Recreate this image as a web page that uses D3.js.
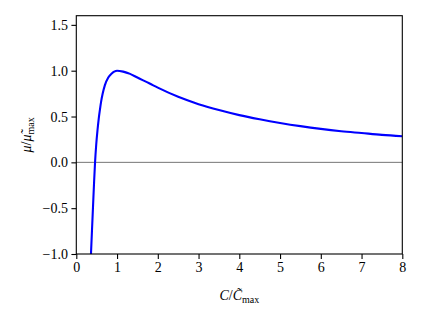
<!DOCTYPE html>
<html>
<head>
<meta charset="utf-8">
<script src="https://cdn.jsdelivr.net/npm/d3@7"></script>
<style>
  html, body { margin: 0; padding: 0; background: #fff; }
  svg { display: block; }
  svg text { font-family: "Liberation Serif", "DejaVu Serif", serif !important; fill: #000; }
</style>
</head>
<body>
<svg id="chart" width="422" height="317"></svg>
<script>
// Data
const cValues = [0.36, 0.385, 0.41, 0.435, 0.46, 0.49, 0.52, 0.55, 0.58, 0.61, 0.645, 0.70, 0.785, 0.87, 0.93, 1.0, 1.15, 1.32, 1.5, 1.8, 2.0, 2.5, 3.0, 3.5, 4.0, 4.5, 5.0, 5.5, 6.0, 6.5, 7.0, 7.5, 8.0];
const muValues = [-1.0, -0.74, -0.485, -0.23, 0.0, 0.2, 0.35, 0.475, 0.575, 0.665, 0.745, 0.84, 0.925, 0.97, 0.99, 1.0, 0.99, 0.965, 0.925, 0.86, 0.815, 0.715, 0.635, 0.57, 0.515, 0.47, 0.43, 0.395, 0.365, 0.34, 0.32, 0.30, 0.285];
const xTicks = [0, 1, 2, 3, 4, 5, 6, 7, 8];
const yTicks = [-1.0, -0.5, 0.0, 0.5, 1.0, 1.5];

const svg = d3.select("#chart");
const mLeft = 76.3, mRight = 402.3, mTop = 15.7, mBottom = 254;
const serif = '"Liberation Serif", "DejaVu Serif", serif';

const x = d3.scaleLinear().domain([0, 8]).range([mLeft, mRight]);
const y = d3.scaleLinear().domain([-1, 1.6]).range([mBottom, mTop]);

svg.append("defs").append("clipPath").attr("id", "clip")
  .append("rect").attr("x", mLeft).attr("y", mTop)
  .attr("width", mRight - mLeft).attr("height", mBottom - mTop);

// zero reference line
svg.append("line")
  .attr("x1", mLeft).attr("x2", mRight)
  .attr("y1", y(0)).attr("y2", y(0))
  .attr("stroke", "#666").attr("stroke-width", 0.9);

// curve
const pts = cValues.map((c, i) => [c, muValues[i]]);
const line = d3.line().x(d => x(d[0])).y(d => y(d[1])).curve(d3.curveMonotoneX);
svg.append("path")
  .datum(pts)
  .attr("clip-path", "url(#clip)")
  .attr("fill", "none")
  .attr("stroke", "#0000ff")
  .attr("stroke-width", 2.1)
  .attr("stroke-linejoin", "round")
  .attr("d", line);

const fmtMinus = s => s.replace("-", "\u2212");

// axes
const xAxis = d3.axisBottom(x).tickValues(xTicks).tickFormat(d3.format("d")).tickSize(4.9).tickPadding(3.5);
const yAxis = d3.axisLeft(y).tickValues(yTicks).tickFormat(d => fmtMinus(d3.format(".1f")(d))).tickSize(4.9).tickPadding(3.5);

const gx = svg.append("g").attr("transform", `translate(0,${mBottom})`).call(xAxis);
const gy = svg.append("g").attr("transform", `translate(${mLeft},0)`).call(yAxis);
[gx, gy].forEach(g => {
  g.attr("font-family", null).attr("font-size", null);
  g.select(".domain").remove();
  g.selectAll(".tick line").attr("stroke", "#000").attr("stroke-width", 1.1);
  g.selectAll(".tick text").style("font-size", "14px").style("font-family", serif).attr("fill", "#000");
});

// frame
svg.append("rect")
  .attr("x", mLeft).attr("y", mTop)
  .attr("width", mRight - mLeft).attr("height", mBottom - mTop)
  .attr("fill", "none").attr("stroke", "#000").attr("stroke-width", 1.1);

// x label
const xl = svg.append("text")
  .attr("x", (mLeft + mRight) / 2).attr("y", 300)
  .attr("text-anchor", "middle").style("font-size", "14px");
xl.append("tspan").attr("font-style", "italic").text("C");
xl.append("tspan").text("/");
xl.append("tspan").attr("font-style", "italic").text("C\u0303");
xl.append("tspan").style("font-size", "10px").attr("dy", 3).text("max");

// y label
const yl = svg.append("text")
  .attr("transform", `translate(31,${(mTop + mBottom) / 2}) rotate(-90)`)
  .attr("text-anchor", "middle").style("font-size", "14px");
yl.append("tspan").attr("font-style", "italic").text("\u03BC");
yl.append("tspan").text("/");
yl.append("tspan").attr("font-style", "italic").text("\u03BC\u0303");
yl.append("tspan").style("font-size", "10px").attr("dy", 3).text("max");
</script>
</body>
</html>
